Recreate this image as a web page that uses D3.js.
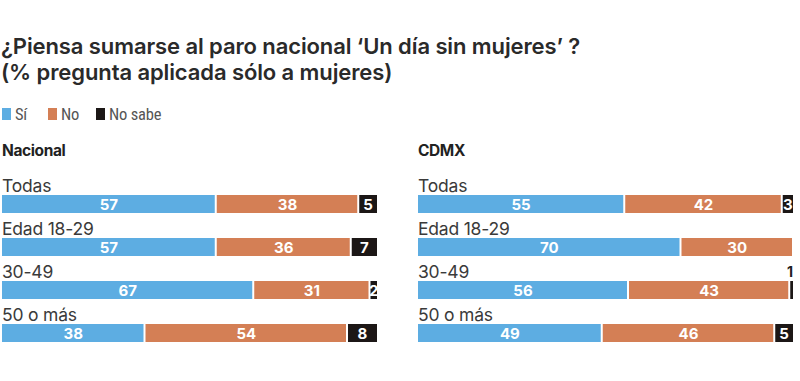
<!DOCTYPE html>
<html><head><meta charset="utf-8">
<script src="https://cdn.jsdelivr.net/npm/d3@7/dist/d3.min.js"></script>
<style>body{margin:0;background:#fff}svg{display:block}</style>
</head><body><div id="chart"></div>
<script>
const titleLines = ["¿Piensa sumarse al paro nacional ‘Un día sin mujeres’ ?", "(% pregunta aplicada sólo a mujeres)"];
const seriesNames = ["Sí", "No", "No sabe"];
const seriesColors = ["#5dade2", "#d47f55", "#1c1716"];
const categories = ["Todas", "Edad 18-29", "30-49", "50 o más"];
const panels = ["Nacional", "CDMX"];
const nacionalSi = [57, 57, 67, 38];
const nacionalNo = [38, 36, 31, 54];
const nacionalNS = [5, 7, 2, 8];
const cdmxSi = [55, 70, 56, 49];
const cdmxNo = [42, 30, 43, 46];
const cdmxNS = [3, 0, 1, 5];

const W = 800, H = 381;
const svg = d3.select("#chart").append("svg").attr("width", W).attr("height", H);
const font = "Inter, 'Noto Sans', sans-serif";

svg.append("g").selectAll("text").data(titleLines).join("text")
  .attr("x", 1).attr("y", (d, i) => 54 + i * 26)
  .attr("font-family", font).attr("font-weight", 600).attr("font-size", 22)
  .attr("fill", "#2a2a2a").attr("letter-spacing", -0.1).text(d => d);

// legend
const lg = svg.append("g").attr("transform", "translate(2,108)");
const lx = [0, 46, 94];
seriesNames.forEach((n, i) => {
  lg.append("rect").attr("x", lx[i]).attr("y", 0).attr("width", 9).attr("height", 12).attr("fill", seriesColors[i]);
  lg.append("text").attr("x", lx[i] + 13).attr("y", 12).attr("font-family", "'Liberation Sans Narrow', 'Roboto Condensed', " + font)
    .attr("font-size", 16.5).attr("fill", "#555").attr("letter-spacing", -0.2).text(n);
});

const data = [
  [nacionalSi, nacionalNo, nacionalNS],
  [cdmxSi, cdmxNo, cdmxNS]
];
const panelX = [2, 418];
const barW = 375;
const y = d3.scaleBand().domain(categories).range([174, 346]).paddingInner(0).paddingOuter(0);

panels.forEach((p, pi) => {
  const g = svg.append("g").attr("transform", `translate(${panelX[pi]},0)`);
  g.append("text").attr("x", 0).attr("y", 156).attr("font-family", font).attr("font-weight", 700)
    .attr("font-size", 15.5).attr("fill", "#222").attr("letter-spacing", -0.4).text(p);
  const x = d3.scaleLinear().domain([0, 100]).range([0, barW]);
  categories.forEach((c, ci) => {
    const top = y(c);
    g.append("text").attr("x", 0).attr("y", top + 18).attr("font-family", font).attr("font-size", 17.5)
      .attr("fill", "#3a3a3a").attr("letter-spacing", -0.2).text(c);
    const vals = data[pi].map(s => s[ci]);
    let cum = 0;
    vals.forEach((v, si) => {
      const x0 = x(cum), x1 = x(cum + v);
      cum += v;
      if (v <= 0) return;
      const by = top + 21, bh = 18;
      g.append("rect").attr("x", x0 + (si > 0 ? 1 : 0)).attr("y", by)
        .attr("width", Math.max(0.5, x1 - x0 - (si > 0 ? 1 : 0) - (si < 2 ? 1 : 0)))
        .attr("height", bh).attr("fill", seriesColors[si]);
      if (v === 1) {
        g.append("text").attr("x", x1).attr("y", by - 4).attr("text-anchor", "end")
          .attr("font-family", font).attr("font-weight", 700).attr("font-size", 14).attr("fill", "#222").text(v);
      } else {
        g.append("text").attr("x", (x0 + x1) / 2 + (si > 0 ? 0.5 : 0)).attr("y", by + 14.5).attr("text-anchor", "middle")
          .attr("font-family", font).attr("font-weight", 700).attr("font-size", 15).attr("fill", "#fff").text(v);
      }
    });
  });
});
</script></body></html>
